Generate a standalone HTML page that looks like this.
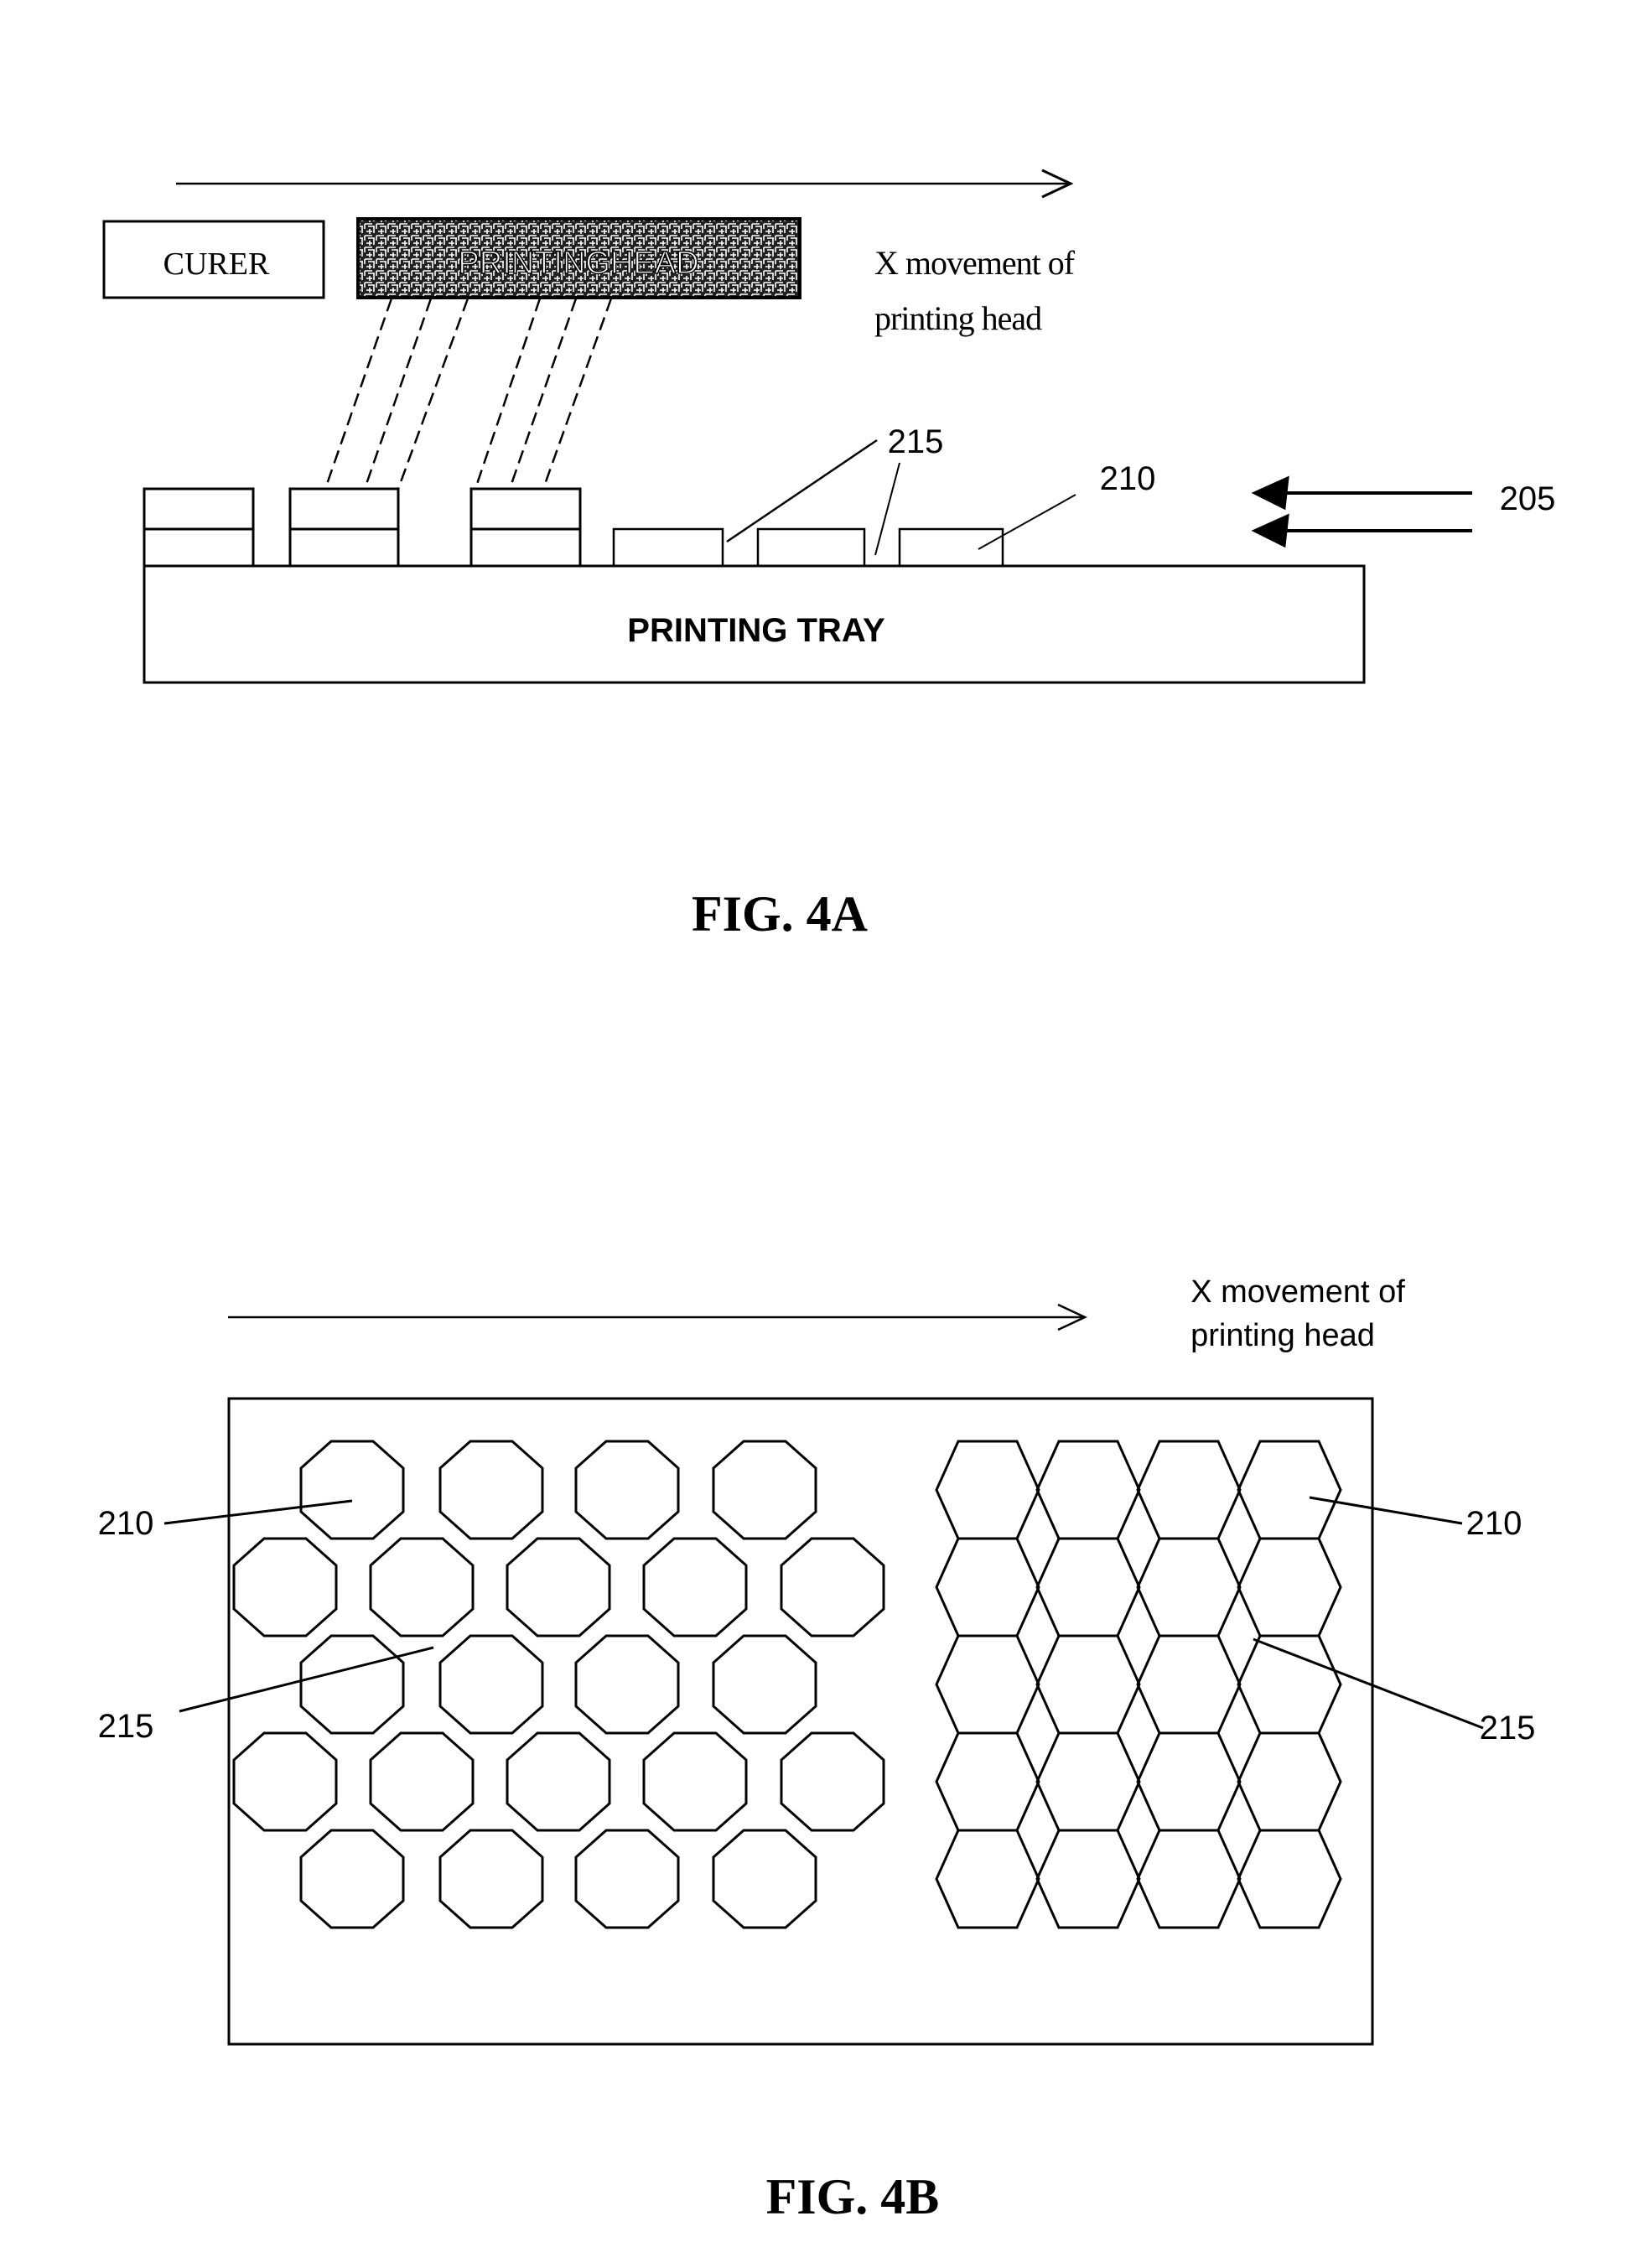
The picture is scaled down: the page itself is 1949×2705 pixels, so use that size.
<!DOCTYPE html>
<html><head><meta charset="utf-8"><style>
html,body{margin:0;padding:0;background:#fff;}
svg{display:block;}
</style></head><body>
<svg width="1949" height="2705" viewBox="0 0 1949 2705" xmlns="http://www.w3.org/2000/svg">
<defs>
<pattern id="maze" width="14" height="14" patternUnits="userSpaceOnUse">
<rect width="14" height="14" fill="#222"/>
<path d="M1 1h9M1 1v6M5 4h8M12 4v8M3 10h7M7 7v6" stroke="#fff" stroke-width="1.6" fill="none"/>
</pattern>
</defs>
<g fill="none" stroke="#000" stroke-width="3">
<line x1="210" y1="219" x2="1275" y2="219" stroke-width="2.5"/>
<polyline points="1243,203 1277,219 1243,235"/>
<rect x="124" y="264" width="262" height="91" stroke-width="3"/>
<rect x="427" y="261" width="527" height="94" fill="url(#maze)" stroke-width="4"/>
<g stroke-dasharray="16,8" stroke-width="2.5">
<line x1="467" y1="356" x2="388" y2="583"/>
<line x1="514" y1="356" x2="435" y2="583"/>
<line x1="558" y1="356" x2="475" y2="583"/>
<line x1="644" y1="356" x2="567" y2="583"/>
<line x1="687" y1="356" x2="608" y2="583"/>
<line x1="729" y1="356" x2="648" y2="583"/>
</g>
<rect x="172" y="583" width="130" height="92"/>
<line x1="172" y1="631" x2="302" y2="631"/>
<rect x="346" y="583" width="129" height="92"/>
<line x1="346" y1="631" x2="475" y2="631"/>
<rect x="562" y="583" width="130" height="92"/>
<line x1="562" y1="631" x2="692" y2="631"/>
<rect x="732" y="631" width="130" height="44" stroke-width="2.5"/>
<rect x="904" y="631" width="127" height="44" stroke-width="2.5"/>
<rect x="1073" y="631" width="123" height="44" stroke-width="2.5"/>
<rect x="172" y="675" width="1455" height="139"/>
<line x1="1046" y1="525" x2="867" y2="646" stroke-width="2.5"/>
<line x1="1073" y1="552" x2="1044" y2="662" stroke-width="2"/>
<line x1="1283" y1="590" x2="1167" y2="655" stroke-width="2"/>
<line x1="1530" y1="588" x2="1756" y2="588" stroke-width="4"/>
<line x1="1530" y1="633" x2="1756" y2="633" stroke-width="4"/>
<polygon points="1496,588 1536,570 1532,606" fill="#000"/>
<polygon points="1496,633 1536,615 1532,651" fill="#000"/>
</g>
<g font-family="Liberation Serif, serif" fill="#000">
<text x="258" y="327" font-size="38" text-anchor="middle">CURER</text>
<text x="690" y="326" font-size="38" text-anchor="middle" fill="#fff" stroke="#000" stroke-width="1.5" font-family="Liberation Sans, sans-serif">PRINTINGHEAD</text>
<text x="1043" y="327" font-size="40" letter-spacing="-1">X movement of</text>
<text x="1043" y="393" font-size="40" letter-spacing="-1">printing head</text>
<text x="930" y="1110" font-size="60" font-weight="bold" text-anchor="middle">FIG. 4A</text>
<text x="1017" y="2640" font-size="60" font-weight="bold" text-anchor="middle">FIG. 4B</text>
</g>
<g font-family="Liberation Sans, sans-serif" fill="#000" font-size="40">
<text x="902" y="765" text-anchor="middle" font-weight="bold" font-size="40">PRINTING TRAY</text>
<text x="1092" y="540" text-anchor="middle">215</text>
<text x="1345" y="584" text-anchor="middle">210</text>
<text x="1822" y="608" text-anchor="middle">205</text>
<text x="1548" y="1553" text-anchor="middle" font-size="38">X movement of</text>
<text x="1530" y="1605" text-anchor="middle" font-size="38">printing head</text>
<text x="150" y="1830" text-anchor="middle">210</text>
<text x="150" y="2072" text-anchor="middle">215</text>
<text x="1782" y="1830" text-anchor="middle">210</text>
<text x="1798" y="2074" text-anchor="middle">215</text>
</g>
<g fill="none" stroke="#000" stroke-width="2.5">
<line x1="272" y1="1571" x2="1292" y2="1571"/>
<polyline points="1262,1556 1294,1571 1262,1586"/>
<rect x="273" y="1668" width="1364" height="770" stroke-width="3"/>
<line x1="196" y1="1817" x2="420" y2="1790" stroke-width="3"/>
<line x1="214" y1="2041" x2="517" y2="1965" stroke-width="3"/>
<line x1="1562" y1="1786" x2="1744" y2="1817" stroke-width="3"/>
<line x1="1495" y1="1955" x2="1769" y2="2061" stroke-width="3"/>
</g>
<g fill="none" stroke="#000" stroke-width="3" id="shapes"></g>
<script>
var g=document.getElementById('shapes'),ns='http://www.w3.org/2000/svg';
function poly(pts){var p=document.createElementNS(ns,'polygon');p.setAttribute('points',pts.map(function(a){return a[0].toFixed(1)+','+a[1].toFixed(1)}).join(' '));g.appendChild(p);}
var rowY=[1719,1835,1951,2067,2183],H=116;
var odd=[420,586,748,912],even=[340,503,666,829,993];
for(var r=0;r<5;r++){var cs=(r%2==0)?odd:even;cs.forEach(function(cx){var y=rowY[r];
poly([[cx-25,y],[cx+25,y],[cx+61,y+32],[cx+61,y+84],[cx+25,y+H],[cx-25,y+H],[cx-61,y+84],[cx-61,y+32]]);});}
var cols=[1117,1237,1357,1477];
for(var r=0;r<5;r++)cols.forEach(function(x){var y=rowY[r];
poly([[x+26,y],[x+96,y],[x+122,y+H/2],[x+96,y+H],[x+26,y+H],[x,y+H/2]]);});
</script>
</svg>
</body></html>
